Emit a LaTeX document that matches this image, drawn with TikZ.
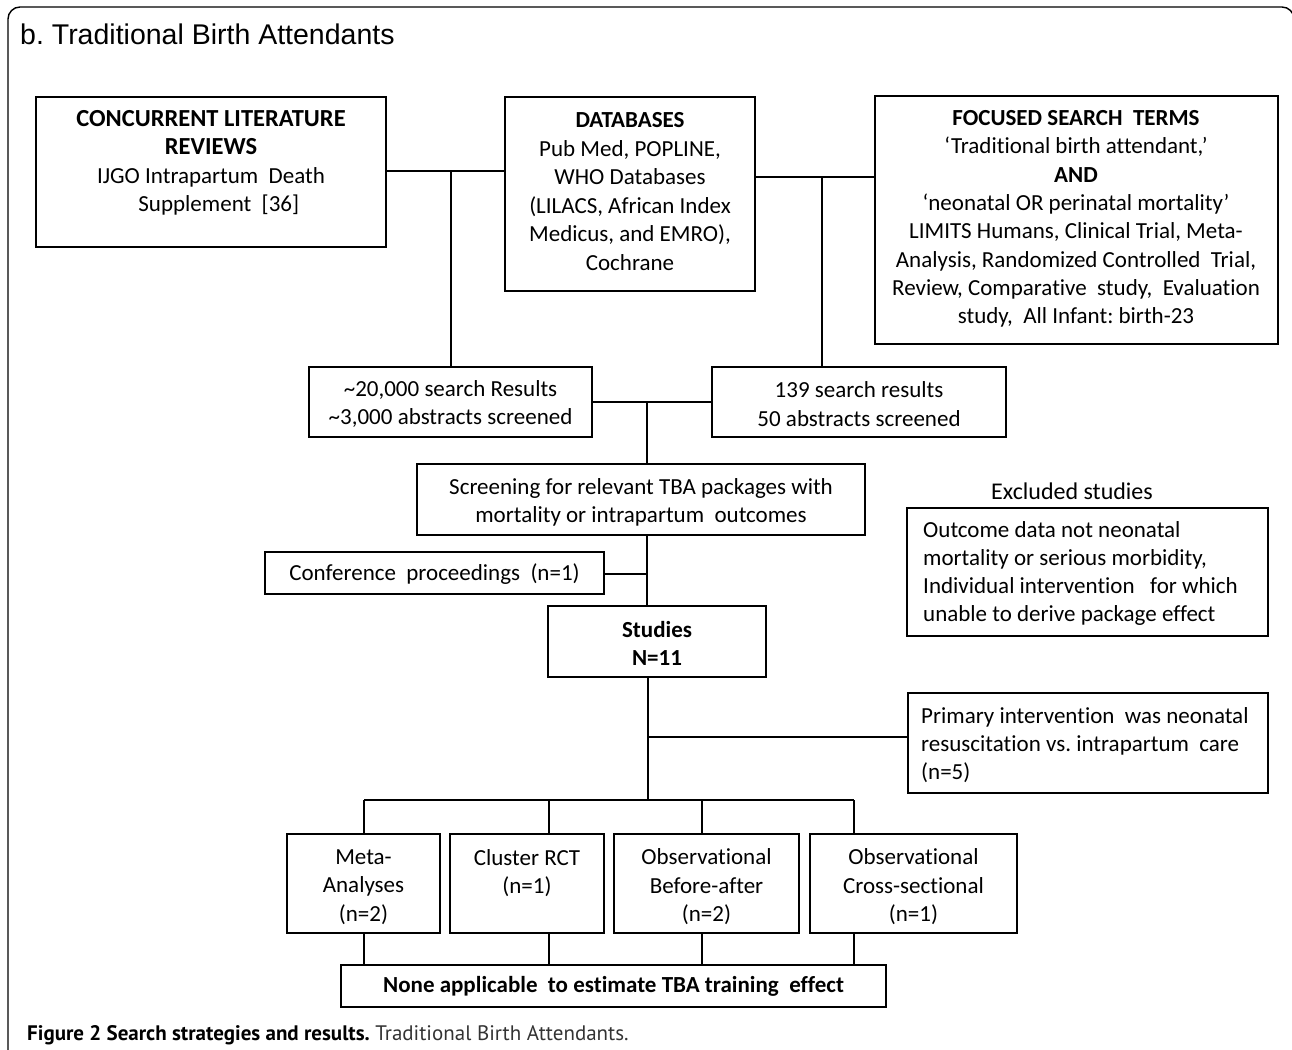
\documentclass[tikz,border=0pt]{standalone}
\usepackage{fontspec}
\setmainfont[Ligatures=NoCommon]{Carlito}
\newfontfamily\titlefont{Liberation Sans}
\newfontfamily\capfont{PT Sans}
\usetikzlibrary{fit}
\frenchspacing
\begin{document}
\begin{tikzpicture}[x=1pt,y=-1pt,
 box/.style={draw, line width=2.4pt, inner sep=0pt, outer sep=0pt},
 txt/.style={align=center, font=\fontsize{23}{28.5}\selectfont, inner sep=0pt},
 ltxt/.style={align=left, font=\fontsize{23}{28}\selectfont, inner sep=0pt, anchor=west},
 con/.style={line width=2pt}]
\useasboundingbox (0,0) rectangle (1292,1049);
% outer frame
\draw[line width=1.4pt, rounded corners=12pt] (8,1080) -- (8,7) -- (1294,7) -- (1294,1080);
\node (title) [anchor=base west, inner sep=0pt, font=\titlefont\fontsize{28.5}{34}\selectfont] at (20,45) {b. Traditional Birth Attendants};

% top boxes
\node (clr) [box, fit={(36,97)(386,247)}] {};
\node (clrt) [txt] at (211,163) {{\fontsize{24.5}{28.5}\selectfont\textbf{CONCURRENT LITERATURE}}\\{\fontsize{24.5}{28.5}\selectfont\textbf{REVIEWS}}\\IJGO Intrapartum\ \ Death\\\ \ \ Supplement\ \ [36]};
\node (db) [box, fit={(505,97)(755,291)}] {};
\node (dbt) [txt] at (630,191.5) {\textbf{DATABASES}\\Pub Med, POPLINE,\\WHO Databases\\(LILACS, African Index\\Medicus, and EMRO),\\Cochrane};
\node (fst) [box, fit={(875,96)(1278,344)}] {};
\node (fstt) [txt, font=\fontsize{23}{28.3}\selectfont] at (1076,219) {\textbf{FOCUSED SEARCH\ \ TERMS}\\‘Traditional birth attendant,’\\\textbf{AND}\\‘neonatal OR perinatal mortality’\\LIMITS Humans, Clinical Trial, Meta-\\Analysis, Randomized Controlled\ \ Trial,\\Review, Comparative\ \ study,\ \ Evaluation\\study,\ \ All Infant: birth-23};

% results
\node (r1) [box, fit={(309,367)(592,437)}] {};
\node (r1t) [txt] at (450.5,404) {\textasciitilde 20,000 search Results\\\textasciitilde 3,000 abstracts screened};
\node (r2) [box, fit={(712,367)(1006,437)}] {};
\node (r2t) [txt] at (859,404) {139 search results\\50 abstracts screened};

\node (scr) [box, fit={(417,464)(865,535)}] {};
\node (scrt) [txt] at (641,502.5) {Screening for relevant TBA packages with\\mortality or intrapartum\ \ outcomes};

\node (conf) [box, fit={(265,552)(604,594)}] {};
\node (conft) [txt] at (434.5,574) {Conference\ \ proceedings\ \ (n=1)};

\node (stud) [box, fit={(548,606)(766,677)}] {};
\node (studt) [txt] at (657,643.5) {\textbf{Studies}\\\textbf{N=11}};

\node (exl) [txt, font=\fontsize{24}{28}\selectfont] at (1072,491) {Excluded studies};
\node (exc) [box, fit={(907,508)(1268,636)}] {};
\node (exct) [ltxt, font=\fontsize{23}{27.7}\selectfont] at (923,573.5) {Outcome data not neonatal\\mortality or serious morbidity,\\Individual intervention\ \ \ for which\\unable to derive package effect};

\node (prim) [box, fit={(908,693)(1268,793)}] {};
\node (primt) [ltxt] at (921,745) {Primary intervention\ \ was neonatal\\resuscitation vs. intrapartum\ \ care\\(n=5)};

% bottom boxes
\node (meta) [box, fit={(287,834)(440,933)}] {};
\node (metat) [txt] at (363.5,887) {Meta-\\Analyses\\(n=2)};
\node (clu) [box, fit={(450,834)(604,933)}] {};
\node (clut) [txt] at (527,873) {Cluster RCT\\(n=1)};
\node (oba) [box, fit={(614,834)(799,933)}] {};
\node (obat) [txt] at (706.5,887) {Observational\\Before-after\\(n=2)};
\node (ocs) [box, fit={(810,834)(1017,933)}] {};
\node (ocst) [txt] at (913.5,887) {Observational\\Cross-sectional\\(n=1)};

\node (none) [box, fit={(341,965)(886,1007)}] {};
\node (nonet) [txt] at (613.5,986) {\textbf{None applicable\ \ to estimate TBA training\ \ effect}};

\node (cap) [anchor=base west, inner sep=0pt, font=\capfont\fontsize{21}{24}\selectfont] at (27,1040) {\textbf{Figure 2 Search strategies and results.} {\color{black!80}Traditional Birth Attendants.}};

% junctions
\coordinate (j1) at (451,171);
\coordinate (j2) at (822,177);
\coordinate (j3) at (647,402);
\coordinate (j4) at (647,574);
\coordinate (j5) at (648,737);
\coordinate (d0) at (648,800);
\coordinate (d1) at (364,800);
\coordinate (d2) at (549,800);
\coordinate (d3) at (702,800);
\coordinate (d4) at (854,800);

\draw[con] (clr.east |- j1) -- (db.west |- j1);
\draw[con] (j1) -- (j1 |- r1.north);
\draw[con] (db.east |- j2) -- (fst.west |- j2);
\draw[con] (j2) -- (j2 |- r2.north);
\draw[con] (r1.east |- j3) -- (r2.west |- j3);
\draw[con] (j3) -- (j3 |- scr.north);
\draw[con] (j4 |- scr.south) -- (j4 |- stud.north);
\draw[con] (conf.east |- j4) -- (j4);
\draw[con] (d0 |- stud.south) -- (d0);
\draw[con] (j5) -- (prim.west |- j5);
\draw[con] (d1) -- (d4);
\draw[con] (d1) -- (d1 |- meta.north);
\draw[con] (d2) -- (d2 |- clu.north);
\draw[con] (d3) -- (d3 |- oba.north);
\draw[con] (d4) -- (d4 |- ocs.north);
\draw[con] (d1 |- meta.south) -- (d1 |- none.north);
\draw[con] (d2 |- clu.south) -- (d2 |- none.north);
\draw[con] (d3 |- oba.south) -- (d3 |- none.north);
\draw[con] (d4 |- ocs.south) -- (d4 |- none.north);
\end{tikzpicture}
\end{document}
